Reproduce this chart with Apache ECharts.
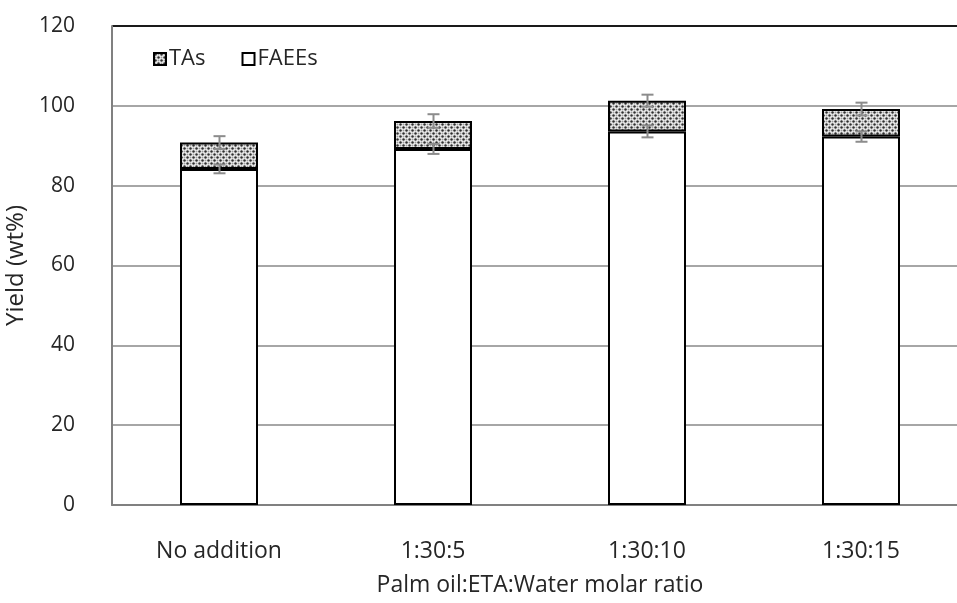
<!DOCTYPE html>
<html style="height: 100%">
<head>
<meta charset="utf-8">
<script src="https://cdn.jsdelivr.net/npm/echarts@6/dist/echarts.min.js"></script>
</head>
<body style="height: 100%; margin: 0; background: #fff">
<div id="container" style="width: 957px; height: 603px"></div>
<script>
var categories = ['No addition', '1:30:5', '1:30:10', '1:30:15'];
var faees = [84.2, 89.2, 93.6, 92.3];
var tas = [6.6, 7.0, 7.7, 6.9];
var faeeErr = [1.1, 1.25, 1.5, 1.3];
var totalErr = [1.6, 1.7, 1.5, 1.6];
var yTicks = [0, 20, 40, 60, 80, 100, 120];

// dotted fill for the TAs segment
var pc = document.createElement('canvas');
pc.width = 6; pc.height = 6;
var g = pc.getContext('2d');
g.fillStyle = '#f0f0f0';
g.fillRect(0, 0, 6, 6);
g.fillStyle = '#2e2e2e';
g.beginPath(); g.arc(1.5, 1.5, 1.25, 0, Math.PI * 2); g.fill();
g.beginPath(); g.arc(4.5, 4.5, 1.25, 0, Math.PI * 2); g.fill();
g.fillStyle = '#a0a0a0';
g.beginPath(); g.arc(4.5, 1.5, 1.0, 0, Math.PI * 2); g.fill();
g.beginPath(); g.arc(1.5, 4.5, 1.0, 0, Math.PI * 2); g.fill();
var dots = { image: pc, repeat: 'repeat' };

var errData = [];
for (var i = 0; i < categories.length; i++) {
    errData.push([i, faees[i] - faeeErr[i], faees[i] + faeeErr[i]]);
    var tot = faees[i] + tas[i];
    errData.push([i, tot - totalErr[i], tot + totalErr[i]]);
}

var txt = '#262626';
var font = '"Open Sans", "Noto Sans", sans-serif';

var chart = echarts.init(document.getElementById('container'));
var option = {
    animation: false,
    textStyle: { fontFamily: font },
    grid: { left: 112, right: -11, top: 26, bottom: 98, outerBoundsMode: 'none' },
    legend: {
        left: 148, top: 43,
        itemWidth: 12, itemHeight: 12, itemGap: 36,
        icon: 'rect',
        textStyle: { fontSize: 22, color: txt, fontFamily: font, padding: [0, 0, 0, -2] },
        data: ['TAs', 'FAEEs']
    },
    xAxis: {
        type: 'category',
        data: categories,
        axisLine: { lineStyle: { color: '#808080', width: 2 } },
        axisTick: { show: false },
        axisLabel: { fontSize: 23, color: txt, margin: 35 },
        name: 'Palm oil:ETA:Water molar ratio',
        nameLocation: 'middle',
        nameGap: 69,
        nameTextStyle: { fontSize: 23, color: txt }
    },
    yAxis: {
        type: 'value',
        min: 0, max: 120, interval: 20,
        axisLine: { show: true, lineStyle: { color: '#808080', width: 2 } },
        axisTick: { show: false },
        axisLabel: { fontSize: 21, color: txt, margin: 37 },
        splitLine: { lineStyle: { color: ['#a6a6a6', '#a6a6a6', '#a6a6a6', '#a6a6a6', '#a6a6a6', '#a6a6a6', '#1a1a1a'], width: 2 } },
        name: 'Yield (wt%)',
        nameLocation: 'middle',
        nameGap: 77,
        nameTextStyle: { fontSize: 24, color: txt }
    },
    series: [
        {
            name: 'FAEEs', type: 'bar', stack: 'y', barWidth: 78,
            data: faees,
            itemStyle: { color: '#fff', borderColor: '#000', borderWidth: 2 }
        },
        {
            name: 'TAs', type: 'bar', stack: 'y', barWidth: 78,
            data: tas,
            itemStyle: { color: dots, borderColor: '#000', borderWidth: 2 }
        },
        {
            type: 'custom', z: 10,
            data: errData,
            renderItem: function (params, api) {
                var x = api.value(0);
                var lo = api.coord([x, api.value(1)]);
                var hi = api.coord([x, api.value(2)]);
                var cx = Math.round(lo[0]) + 0.5;
                var w = 6;
                var st = { stroke: '#8c8c8c', lineWidth: 2 };
                return {
                    type: 'group',
                    children: [
                        { type: 'line', shape: { x1: cx, y1: lo[1], x2: cx, y2: hi[1] }, style: st },
                        { type: 'line', shape: { x1: cx - w, y1: lo[1], x2: cx + w, y2: lo[1] }, style: st },
                        { type: 'line', shape: { x1: cx - w, y1: hi[1], x2: cx + w, y2: hi[1] }, style: st }
                    ]
                };
            }
        }
    ]
};
chart.setOption(option);
</script>
</body>
</html>
